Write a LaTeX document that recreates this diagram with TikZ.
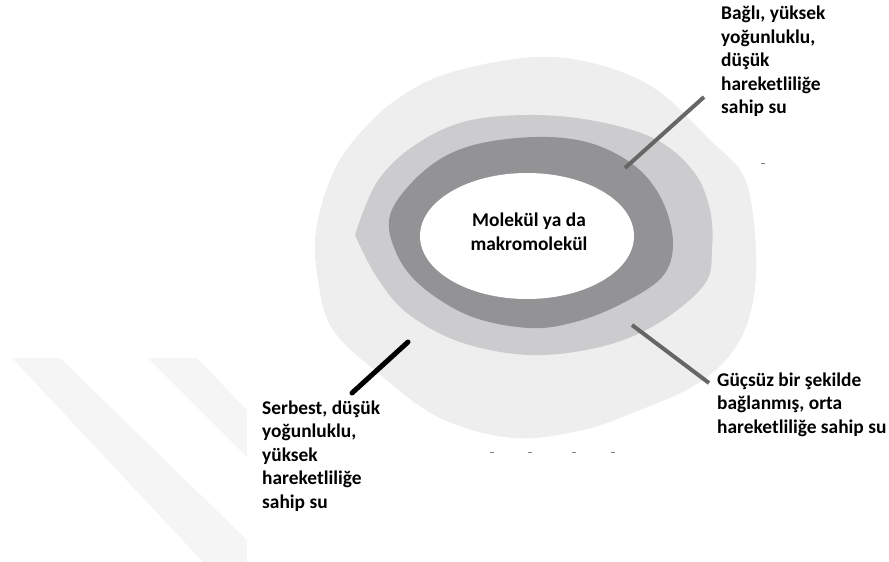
\documentclass[tikz,border=0pt]{standalone}
\usepackage{fontspec}
\setmainfont{Carlito}
\usepackage{tikz}
\usetikzlibrary{positioning}
\definecolor{outergray}{HTML}{EEEEEE}
\definecolor{midgray}{HTML}{CCCCCE}
\definecolor{ringgray}{HTML}{939396}
\definecolor{leadgray}{HTML}{666666}
\definecolor{markgray}{HTML}{F5F5F5}
\begin{document}
\begin{tikzpicture}[x=1pt,y=-1pt,
  lbl/.style={inner sep=0pt, align=left, anchor=base west, font=\fontsize{19.4}{23.5}\selectfont\bfseries},
  lead/.style={line width=4pt, leadgray},
  blob/.style={smooth cycle, tension=0.6}]
  \useasboundingbox (0,0) rectangle (889,562);
  \fill[markgray] (12,358) -- (60,358) -- (247,540) -- (247,562) -- (203,562) -- cycle;
  \fill[markgray] (148,358) -- (197,358) -- (247,410) -- (247,457) -- cycle;
  \fill[outergray] plot[blob] coordinates {(535,57) (600,65) (657,90) (710,140) (742,173) (753,215) (756,277) (746,327) (724,362) (690,388) (640,410) (583,430) (513,438) (440,418) (383,377) (333,330) (318,280) (316,230) (333,173) (360,133) (400,97) (452,72)};
  \fill[midgray] plot[smooth, tension=0.6] coordinates {(355,235) (377,182) (415,145) (467,121) (535,115) (600,122) (657,140) (694,172) (710,210) (712,250) (704,285) (657,324) (600,347) (529,355) (460,342) (407,313) (376,276) (355,235)};
  \fill[ringgray] plot[blob] coordinates {(391,212) (425,170) (470,146) (535,137) (590,143) (635,166) (662,200) (673,243) (662,277) (621,304) (575,322) (529,328) (470,316) (420,285) (395,250)};
  \fill[white] (527,236) ellipse [x radius=107, y radius=63];
  \draw[gray, line width=1pt] (761,163) -- (765,163)
    (490,452) -- (494,452) (528,452) -- (532,452) (572,452) -- (576,452) (611,452) -- (615,452);
  \node[lbl, anchor=base, align=center] (mol) at (529,250) {Molekül ya da\\makromolekül};
  \node[lbl] (bound) at (721,113.5) {Bağlı, yüksek\\yoğunluklu,\\düşük\\hareketliliğe\\sahip su};
  \node[lbl] (weak) at (717,433) {Güçsüz bir şekilde\\bağlanmış, orta\\hareketliliğe sahip su};
  \node[lbl] (free) at (262,508) {Serbest, düşük\\yoğunluklu,\\yüksek\\hareketliliğe\\sahip su};
  \coordinate (boundin) at (625,168);
  \coordinate (boundout) at (704,97);
  \coordinate (weakin) at (632,325);
  \coordinate (weakout) at (709,383);
  \coordinate (freein) at (408,342);
  \coordinate (freeout) at (352,393);
  \draw[lead] (boundin) -- (boundout);
  \draw[lead] (weakin) -- (weakout);
  \draw[line width=5pt, line cap=round] (freein) -- (freeout);
\end{tikzpicture}
\end{document}
